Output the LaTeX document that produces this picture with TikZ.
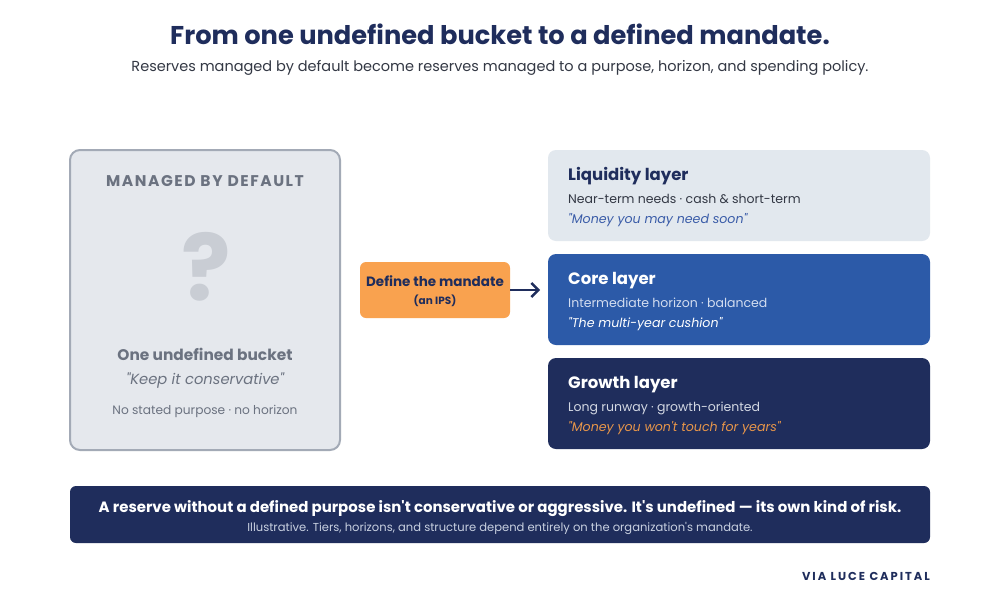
\documentclass[tikz,border=0pt]{standalone}
\usepackage{fontspec}
\setmainfont{Poppins}[Ligatures=TeXOff]
\usetikzlibrary{arrows.meta}
\definecolor{navy}{HTML}{1F2D5C}
\definecolor{grayfill}{HTML}{E5E8ED}
\definecolor{grayedge}{HTML}{A3AAB6}
\definecolor{graytext}{HTML}{6B7280}
\definecolor{qmark}{HTML}{C9CDD4}
\definecolor{orangebox}{HTML}{F9A24F}
\definecolor{liqfill}{HTML}{E2E8EE}
\definecolor{corefill}{HTML}{2C5AA8}
\definecolor{bodytext}{HTML}{333844}
\definecolor{liqital}{HTML}{3A5CA8}
\definecolor{coreline}{HTML}{D3DDF0}
\definecolor{growline}{HTML}{D3D8E3}
\definecolor{growital}{HTML}{E8964A}
\definecolor{bannersub}{HTML}{C8D0E0}
\tikzset{
  txt/.style={inner sep=0pt, anchor=base},
  ltxt/.style={inner sep=0pt, anchor=base west},
  layerbox/.style={rounded corners=8pt},
}
\begin{document}
\begin{tikzpicture}[x=1pt,y=-1pt]
\useasboundingbox (0,0) rectangle (1000,600);
\fill[white] (0,0) rectangle (1000,600);
% title
\node[txt, text=navy, font=\fontsize{25.7}{30}\selectfont\bfseries] (title) at (500,44) {From one undefined bucket to a defined mandate.};
\node[txt, text=bodytext, font=\fontsize{14.5}{17}\selectfont] (sub) at (500,71) {Reserves managed by default become reserves managed to a purpose, horizon, and spending policy.};
% left box
\draw[fill=grayfill, draw=grayedge, line width=2pt, rounded corners=10pt] (70,150) rectangle (340,450);
\node[txt, text=graytext, font=\fontsize{15.5}{18}\selectfont\bfseries\addfontfeature{LetterSpace=10}] (mbd) at (205,186.5) {MANAGED BY DEFAULT};
\node[txt, text=qmark, font=\fontsize{92}{94}\selectfont\bfseries] (q) at (206,300) {?};
\node[txt, text=graytext, font=\fontsize{15.4}{18}\selectfont\bfseries] (oub) at (205,360) {One undefined bucket};
\node[txt, text=graytext, font=\fontsize{14.7}{17}\selectfont\itshape] (kic) at (205,384.5) {"Keep it conservative"};
\node[txt, text=graytext, font=\fontsize{12.2}{14}\selectfont] (nsp) at (205,414) {No stated purpose · no horizon};
% orange box
\node[fill=orangebox, rounded corners=6pt, minimum width=150pt, minimum height=56pt, inner sep=0pt] (mandate) at (435,290) {};
\node[txt, text=navy, font=\fontsize{13.5}{16}\selectfont\bfseries] (m1) at (435,286.5) {Define the mandate};
\node[txt, text=navy, font=\fontsize{10.5}{12}\selectfont\bfseries] (m2) at (435,304) {(an IPS)};
\coordinate (arrend) at (540,290);
\draw[navy, line width=2.4pt, -{Straight Barb[length=7pt,width=14pt,line width=2.4pt]}] (mandate.east) -- (arrend);
% liquidity
\fill[liqfill, layerbox] (548,150) rectangle (930,241);
\node[ltxt, text=navy, font=\fontsize{16.5}{19}\selectfont\bfseries] (lt) at (568,180) {Liquidity layer};
\node[ltxt, text=bodytext, font=\fontsize{12.5}{15}\selectfont] (l2) at (568,203.5) {Near-term needs · cash \& short-term};
\node[ltxt, text=liqital, font=\fontsize{12.6}{15}\selectfont\itshape] (l3) at (568,223.5) {"Money you may need soon"};
% core
\fill[corefill, layerbox] (548,254) rectangle (930,345);
\node[ltxt, text=white, font=\fontsize{16.5}{19}\selectfont\bfseries] (ct) at (568,284) {Core layer};
\node[ltxt, text=coreline, font=\fontsize{12.5}{15}\selectfont] (c2) at (568,307.5) {Intermediate horizon · balanced};
\node[ltxt, text=white, font=\fontsize{12.6}{15}\selectfont\itshape] (c3) at (568,327.5) {"The multi-year cushion"};
% growth
\fill[navy, layerbox] (548,358) rectangle (930,449);
\node[ltxt, text=white, font=\fontsize{16.5}{19}\selectfont\bfseries] (gt) at (568,388) {Growth layer};
\node[ltxt, text=growline, font=\fontsize{12.5}{15}\selectfont] (g2) at (568,411.5) {Long runway · growth-oriented};
\node[ltxt, text=growital, font=\fontsize{12.6}{15}\selectfont\itshape] (g3) at (568,431.5) {"Money you won't touch for years"};
% banner
\fill[navy, rounded corners=6pt] (70,486) rectangle (930,543);
\node[txt, text=white, font=\fontsize{14.95}{17}\selectfont\bfseries] (b1) at (500,512.5) {A reserve without a defined purpose isn't conservative or aggressive. It's undefined — its own kind of risk.};
\node[txt, text=bannersub, font=\fontsize{11.55}{13}\selectfont] (b2) at (500,531) {Illustrative. Tiers, horizons, and structure depend entirely on the organization's mandate.};
% credit
\node[inner sep=0pt, anchor=base east, text=navy, font=\fontsize{11.5}{13}\selectfont\bfseries\addfontfeature{LetterSpace=17}] (via) at (930,580) {VIA LUCE CAPITAL};
\end{tikzpicture}
\end{document}
